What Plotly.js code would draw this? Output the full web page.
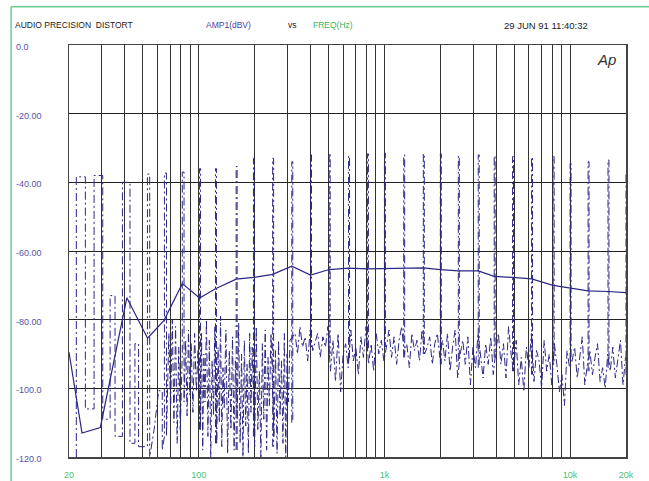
<!DOCTYPE html>
<html><head><meta charset="utf-8">
<script src="https://cdn.plot.ly/plotly-3.0.1.min.js"></script>
<style>html,body{margin:0;padding:0;background:#fff;}#chart{width:649px;height:481px;}</style>
</head><body><div id="chart"></div>
<script>
// Swept THD+N curve (solid)
const sweepFreq = [20, 23.5, 29.5, 41, 53, 65, 81.5, 101, 123, 159, 197, 250, 317, 400, 504, 641, 810, 1000, 1270, 1620, 2000, 2500, 3200, 3900, 4900, 6200, 8100, 10000, 12500, 16000, 20000];
const thdDb = [-89.5, -113, -111.4, -73.6, -85.4, -80.2, -69.5, -73.7, -71, -68.2, -67.7, -66.8, -64.4, -67, -65.4, -65, -65.2, -65.1, -64.9, -64.9, -65.4, -65.8, -65.8, -67.4, -67.7, -68.1, -70, -70.7, -71.6, -71.8, -72.1];

// Dash-dot spectrum trace: low band step structure
const lowFreq = [21.9, 21.9, 24.5, 24.5, 27.3, 27.3, 30.4, 30.4, 33.3, 33.3, 35.4, 35.4, 38.8, 38.8, 42.6, 42.6, 45.3, 45.3, 47.4, 47.4, 52.9, 52.9, 54.4, 54.4, 57.5, 60.8, 63.6, 63.6, 65.3, 65.3, 67, 67, 69, 70.5, 72, 73.5, 75, 76.5, 78, 79.5, 81.5, 81.5, 83.3, 83.3, 85, 86.5, 88, 89.5, 91, 93, 95, 97, 99];
const lowDb = [-120, -38.4, -38.4, -106, -106, -38, -38, -109, -109, -73, -73, -114, -114, -40, -40, -116, -116, -87, -87, -117, -117, -37.6, -37.6, -120, -112, -100.7, -100.7, -118, -114, -37.3, -37.3, -114, -84, -106, -80, -110, -82, -116, -88, -112, -90, -37, -37, -104, -86, -108, -83, -102, -87, -107, -84, -101, -89];

// mid band (dense noise 100-320 Hz)
const midFreq = [102, 103.5, 105, 106.5, 108, 110, 112, 114, 116, 118, 120, 122, 125, 127, 129, 131, 133, 135, 137, 140, 143, 146, 149, 152, 155, 157.5, 161, 164, 167, 170, 173, 176, 179, 182, 185, 188, 191, 194, 200, 204, 208, 212, 216, 220, 224, 228, 232, 236, 240, 245, 254, 259, 264, 269, 274, 279, 284, 289, 294, 299, 304, 310];
const midDb = [-112, -84, -118, -90, -104, -80, -114, -86, -120, -92, -108, -82,
  -116, -88, -110, -79, -117, -94, -106, -83, -119, -89, -112, -85, -118, -92,
  -109, -81, -116, -90, -120, -86, -111, -93, -119, -84, -107, -88,
  -117, -82, -112, -95, -120, -87, -109, -83, -118, -91, -105, -84,
  -114, -89, -119, -86, -108, -92, -116, -84, -120, -90, -104, -86];

// high band noise
const hiFreqA = [330, 340, 351, 362, 374, 386, 398, 411, 424, 437, 451, 466, 481, 496];
const hiDbA = [-84, -90, -82, -88, -85, -92, -83, -89, -86, -84, -91, -85, -88, -82];
const hiFreqB = [512, 528, 545, 563, 581, 599, 618, 638, 659, 680, 701, 724, 747, 771, 796, 821, 848, 875, 903, 932, 962, 993];
const hiDbB = [-95, -86, -98, -84, -101, -90, -87, -94, -83, -92, -88, -96, -85, -91, -82, -93, -87, -95, -84, -90, -86, -92];
const hiFreqC = [1025, 1058, 1092, 1127, 1163, 1200, 1239, 1278, 1319, 1362, 1405, 1450, 1497, 1545, 1594, 1645, 1698, 1753, 1809, 1867, 1927, 1988];
const hiDbC = [-88, -83, -91, -85, -93, -86, -82, -90, -87, -94, -84, -89, -86, -92, -83, -90, -88, -85, -93, -87, -84, -91];
const hiFreqD = [2052, 2118, 2186, 2256, 2328, 2403, 2480, 2559, 2641, 2726, 2813, 2904, 2997, 3093, 3192, 3294, 3400, 3509, 3621, 3737, 3857, 3981];
const hiDbD = [-86, -92, -84, -95, -88, -83, -97, -90, -86, -93, -85, -99, -88, -94, -84, -91, -97, -87, -93, -85, -96, -89];
const hiFreqE = [4108, 4240, 4376, 4516, 4661, 4810, 4964, 5123, 5287, 5457, 5632, 5812, 5998, 6190, 6389, 6593, 6805, 7022, 7248, 7480, 7719, 7966, 8222, 8485, 8757, 9037, 9327, 9625, 9934];
const hiDbE = [-84, -93, -87, -97, -82, -90, -95, -86, -99, -91, -101, -88, -94, -84, -98, -89, -92, -100, -86, -95, -90, -99, -87, -93, -101, -96, -105, -89, -94];
const hiFreqF = [10250, 10580, 10920, 11270, 11630, 12000, 12390, 12780, 13190, 13620, 14050, 14500, 14970, 15450, 15940, 16450, 16980, 17530, 18090, 18670, 19270, 19880];
const hiDbF = [-92, -88, -97, -90, -85, -99, -93, -89, -96, -91, -87, -98, -94, -100, -90, -95, -88, -97, -92, -86, -99, -91];

// spikes at sweep frequencies
const spikeFreq = [101, 123, 159, 197, 250, 317, 400, 504, 641, 810, 1000, 1270, 1620, 2000, 2500, 3200, 3900, 4900, 6200, 8100, 10000, 12500, 16000, 20000];
const spikeTop = [-36, -36, -35.4, -33, -33, -34, -32, -31.5, -32.3, -31.7, -31.5, -32, -31.7, -31.7, -32.3, -32, -32.3, -32.5, -32.7, -32.5, -34.5, -34, -33.5, -37];
const spikeBase = [-112, -116, -118, -114, -117, -110, -88, -90, -92, -89, -88, -91, -90, -93, -92, -94, -91, -95, -96, -93, -92, -95, -94, -96];

// axes
const xGridFreq = [20, 30, 40, 50, 60, 70, 80, 90, 100, 200, 300, 400, 500, 600, 700, 800, 900, 1000, 2000, 3000, 4000, 5000, 6000, 7000, 8000, 9000, 10000, 20000];
const xLabelFreq = [20, 100, 1000, 10000, 20000];
const xLabelText = ['20', '100', '1k', '10k', '20k'];
const yTickVals = [0, -20, -40, -60, -80, -100, -120];
const yTickText = ['0.0', '-20.00', '-40.00', '-60.00', '-80.00', '-100.0', '-120.0'];

const noiseFreq = [].concat(lowFreq, midFreq, hiFreqA, hiFreqB, hiFreqC, hiFreqD, hiFreqE, hiFreqF);
const noiseDb = [].concat(lowDb, midDb, hiDbA, hiDbB, hiDbC, hiDbD, hiDbE, hiDbF);

const sx = [], sy = [];
spikeFreq.forEach((f, i) => {
  sx.push(f, f, f * 1.012, f * 1.012, null);
  sy.push(spikeBase[i], spikeTop[i], spikeTop[i], spikeBase[i], null);
});

const ink = '#2b2784';
const dashPat = '8px,3px,2px,3px';
const traces = [
  {x: noiseFreq, y: noiseDb, type: 'scatter', mode: 'lines', line: {color: ink, width: 1, dash: dashPat}, hoverinfo: 'skip'},
  {x: sx, y: sy, type: 'scatter', mode: 'lines', connectgaps: false, line: {color: ink, width: 1, dash: dashPat}, hoverinfo: 'skip'},
  {x: sweepFreq, y: thdDb, type: 'scatter', mode: 'lines', line: {color: ink, width: 1.2}}
];

const xTickText = xGridFreq.map(f => { const k = xLabelFreq.indexOf(f); return k >= 0 ? xLabelText[k] : ''; });

const annotations = yTickVals.map((v, i) => ({
  xref: 'paper', yref: 'y', x: -0.0987, y: v, xanchor: 'left', yanchor: 'middle', yshift: -2,
  text: yTickText[i], showarrow: false, font: {color: '#5753a3', size: 9}
}));
const hy = 1.0485;
annotations.push(
  {xref: 'paper', yref: 'paper', x: -0.1, y: hy, xanchor: 'left', yanchor: 'middle', text: 'AUDIO PRECISION\u00a0 DISTORT', showarrow: false, font: {color: '#222', size: 8.5}},
  {xref: 'paper', yref: 'paper', x: 0.242, y: hy, xanchor: 'left', yanchor: 'middle', text: 'AMP1(dBV)', showarrow: false, font: {color: '#4a40a8', size: 8.5}},
  {xref: 'paper', yref: 'paper', x: 0.389, y: hy, xanchor: 'left', yanchor: 'middle', text: 'vs', showarrow: false, font: {color: '#222', size: 8.5}},
  {xref: 'paper', yref: 'paper', x: 0.434, y: hy, xanchor: 'left', yanchor: 'middle', text: 'FREQ(Hz)', showarrow: false, font: {color: '#3cb554', size: 8.5}},
  {xref: 'paper', yref: 'paper', x: 0.777, y: hy, xanchor: 'left', yanchor: 'middle', text: '29 JUN 91 11:40:32', showarrow: false, font: {color: '#222', size: 9.5}},
  {xref: 'paper', yref: 'paper', x: 0.944, y: 0.966, xanchor: 'left', yanchor: 'middle', text: '<i>Ap</i>', showarrow: false, font: {color: '#333', size: 15}}
);

const green = '#6ccf90';
const layout = {
  width: 649, height: 481,
  margin: {l: 69, r: 23, t: 45, b: 24, pad: 0},
  paper_bgcolor: '#fff', plot_bgcolor: '#fff',
  showlegend: false,
  font: {family: 'Liberation Sans, Arial, sans-serif', size: 9},
  xaxis: {
    type: 'log', range: [Math.log10(20), Math.log10(20000)],
    tickmode: 'array', tickvals: xGridFreq, ticktext: xTickText,
    showgrid: true, gridcolor: '#333', gridwidth: 1,
    showline: true, mirror: true, linecolor: '#444', linewidth: 1.5,
    ticks: 'outside', ticklen: 9, tickcolor: 'rgba(0,0,0,0)',
    tickfont: {color: '#4cbf6e', size: 9}, zeroline: false, fixedrange: true
  },
  yaxis: {
    range: [-120, 0], tickmode: 'array', tickvals: yTickVals, showticklabels: false,
    showgrid: true, gridcolor: '#222', gridwidth: 1,
    showline: true, mirror: true, linecolor: '#444', linewidth: 1.5,
    zeroline: false, ticks: '', fixedrange: true
  },
  annotations: annotations,
  shapes: [
    {type: 'line', xref: 'paper', yref: 'paper', x0: -0.104, x1: -0.104, y0: 1.093, y1: -0.07, line: {color: green, width: 1.5}},
    {type: 'line', xref: 'paper', yref: 'paper', x0: -0.104, x1: 1.05, y0: 1.093, y1: 1.093, line: {color: green, width: 1.5}}
  ]
};

Plotly.newPlot('chart', traces, layout, {displayModeBar: false, staticPlot: true});
</script>
</body></html>
